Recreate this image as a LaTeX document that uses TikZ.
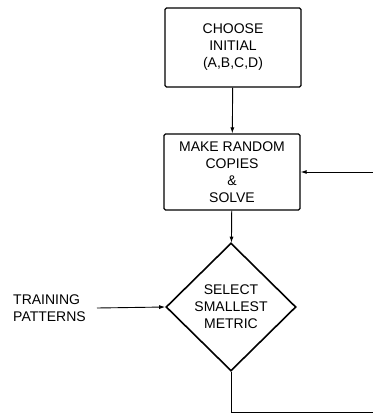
\documentclass[tikz,border=0pt]{standalone}
\usepackage{fontspec}
\setmainfont{Liberation Sans}
\usetikzlibrary{shapes.geometric,arrows.meta}

\tikzset{
  stepbox/.style={draw, line width=1.2pt, rounded corners=1.5pt,
    minimum width=136pt, align=center, inner sep=0pt},
  decide/.style={draw, diamond, line width=1.6pt, align=center,
    inner sep=0pt, minimum width=130pt, minimum height=128pt},
  flow/.style={line width=0.9pt, -{Latex[length=6pt,width=4pt]}},
}

\begin{document}
\begin{tikzpicture}[x=1pt, y=-1pt, font=\fontsize{14}{17}\selectfont]
      \useasboundingbox (0,0) rectangle (373,416);
      \node[stepbox, minimum height=79pt] (init) at (233,47.5)
        {CHOOSE\\INITIAL\\(A,B,C,D)};
      \node[stepbox, minimum height=76pt] (solve) at (232,172)
        {MAKE RANDOM\\COPIES\\\&\\SOLVE};
      \node[decide] (sel) at (231,307) {SELECT\\SMALLEST\\METRIC};
      \node[anchor=west, align=left, inner sep=0pt] (train) at (13,308)
        {TRAINING\\PATTERNS};
      \coordinate (loopbot) at (373.5,412);
      % main flow
      \draw[flow] (init) -- (solve);
      \draw[flow] (solve) -- (sel);
      \draw[flow] ([xshift=11pt]train.east) -- (sel.west);
      % feedback loop
      \draw[flow] (sel.south) |- (loopbot) |- (solve.east);
    \end{tikzpicture}
\end{document}
